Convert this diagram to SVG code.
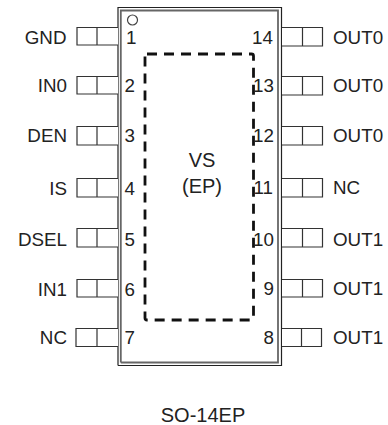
<svg xmlns="http://www.w3.org/2000/svg" width="388" height="425" viewBox="0 0 388 425">
<style>
text{font-family:"Liberation Sans",Arial,sans-serif;font-size:18.800px;fill:#222}
.e{text-anchor:end}.m{text-anchor:middle}
.p{fill:#fff;stroke:#333;stroke-width:1.2}
.b{fill:none;stroke:#333;stroke-width:1.2}
</style>
<rect width="388" height="425" fill="#fff"/>
<g id="package">
<path class="b" d="M118 365.500V7.500H281.500V365.500H118" style="stroke:#222"/>
<path class="b" d="M120.800 362.500V10.500H278V362.500H120.800" style="stroke:#666;stroke-width:1.800"/>
<circle cx="132.500" cy="20" r="5" fill="#fff" stroke="#444" stroke-width="1.2"/>
</g>
<g id="exposed-pad">
<rect x="145" y="54" width="108.500" height="266" rx="2" fill="none" stroke="#111" stroke-width="2.800" stroke-dasharray="10 7"/>
<text class="m" x="202" y="167" style="font-size:20px">VS</text>
<text class="m" x="202" y="193" style="font-size:20px">(EP)</text>
</g>
<g id="connectors"></g>
<g id="pin1"><path class="p" d="M118 27.500H77V45H118M97 27.500V45"/><text class="e" x="66.500" y="44">GND</text><text x="126" y="44">1</text></g>
<g id="pin2"><path class="p" d="M118 76.500H77V94H118M97 76.500V94"/><text class="e" x="67" y="92">IN0</text><text x="124.500" y="92">2</text></g>
<g id="pin3"><path class="p" d="M118 126.500H77V145H118M97 126.500V145"/><text class="e" x="67" y="142">DEN</text><text x="124.500" y="142">3</text></g>
<g id="pin4"><path class="p" d="M118 178.500H77V197H118M97 178.500V197"/><text class="e" x="67" y="195">IS</text><text x="124.500" y="195">4</text></g>
<g id="pin5"><path class="p" d="M118 228.500H77V247H118M97 228.500V247"/><text class="e" x="67" y="246">DSEL</text><text x="124.500" y="246">5</text></g>
<g id="pin6"><path class="p" d="M118 279.500H77V297H118M97 279.500V297"/><text class="e" x="67" y="296">IN1</text><text x="124.500" y="296">6</text></g>
<g id="pin7"><path class="p" d="M118 328.500H76V346.500H118M97 328.500V346.500"/><text class="e" x="67" y="344">NC</text><text x="124.500" y="344">7</text></g>
<g id="pin14"><path class="p" d="M282 27.500H322.500V46H282M302.500 27.500V46"/><text x="333" y="44">OUT0</text><text class="e" x="273" y="44">14</text></g>
<g id="pin13"><path class="p" d="M282 76.500H322.500V95H282M302.500 76.500V95"/><text x="333" y="92">OUT0</text><text class="e" x="274" y="92">13</text></g>
<g id="pin12"><path class="p" d="M282 126.500H322.500V145H282M302.500 126.500V145"/><text x="333" y="142">OUT0</text><text class="e" x="274" y="142">12</text></g>
<g id="pin11"><path class="p" d="M282 178.500H322.500V197H282M302.500 178.500V197"/><text x="333" y="194">NC</text><text class="e" x="273" y="194">11</text></g>
<g id="pin10"><path class="p" d="M282 228.500H322.500V247H282M302.500 228.500V247"/><text x="333" y="246">OUT1</text><text class="e" x="274" y="246">10</text></g>
<g id="pin9"><path class="p" d="M282 279.500H322.500V297H282M302.500 279.500V297"/><text x="333" y="295">OUT1</text><text class="e" x="274" y="295">9</text></g>
<g id="pin8"><path class="p" d="M282 328.500H321.500V346.500H282M301.500 328.500V346.500"/><text x="333" y="344">OUT1</text><text class="e" x="274" y="344">8</text></g>
<text class="m" x="203" y="422" id="caption" style="font-size:20px">SO-14EP</text>
</svg>
